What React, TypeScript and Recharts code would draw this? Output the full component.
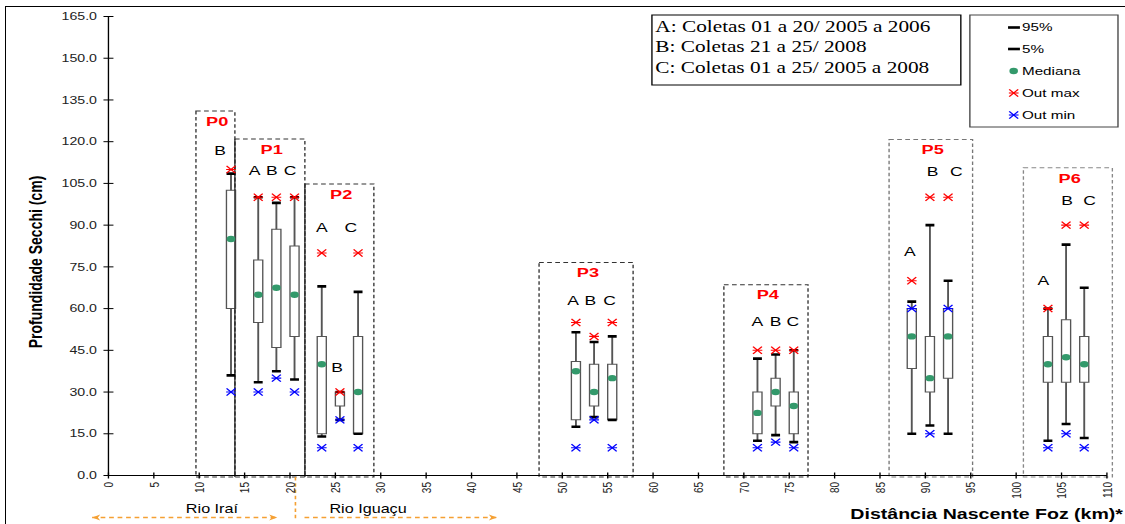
import React from "react"

import {
  ComposedChart,
  XAxis,
  YAxis,
  Scatter,
  ErrorBar,
  ReferenceArea,
  ReferenceLine,
  ReferenceDot,
  Legend,
  Label
} from "recharts"

// the original figure is stretched horizontally, so draw narrow and scale
const FULL_W = 1125
const W = 834
const H = 524
const SX = FULL_W / W

const SANS = "'Liberation Sans', Arial, Helvetica, sans-serif"
const SERIF = "'Liberation Serif', 'Times New Roman', serif"

const GREEN = "#33996b"
const ORANGE = "#f5a033"

const xTicks = [0, 5, 10, 15, 20, 25, 30, 35, 40, 45, 50, 55, 60, 65, 70, 75, 80, 85, 90, 95, 100, 105, 110]
const yTicks = [0, 15, 30, 45, 60, 75, 90, 105, 120, 135, 150, 165]

// box plots (distance from source in km)
const boxX = [13.5, 16.5, 18.5, 20.5, 23.5, 25.5, 27.5, 51.5, 53.5, 55.5, 71.5, 73.5, 75.5, 88.5, 90.5, 92.5, 103.5, 105.5, 107.5]
const p5 = [36, 33.5, 37.5, 34.5, 14, 20, 15, 17.5, 21, 20, 12.5, 14.5, 12, 15, 18, 15, 12.5, 18.5, 13.5]
const q1 = [60, 55, 46, 50, 15, 25, 15, 20, 25, 20, 15, 25, 15, 38.5, 30, 35, 33.5, 33.5, 33.5]
const med = [85, 65, 67.5, 65, 40, null, 30, 37.5, 30, 35, 22.5, 30, 25, 50, 35, 50, 40, 42.5, 40]
const q3 = [102.5, 77.5, 88.5, 82.5, 50, 30, 50, 41, 40, 40, 30, 35, 30, 60, 50, 60, 50, 56, 50]
const p95 = [108.5, 100, 98, 100, 68, 30, 66, 51.5, 48, 50, 42, 43.5, 45, 62.5, 90, 70, 60, 83, 67.5]
const outMax = [110, 100, 100, 100, 80, 30, 80, 55, 50, 55, 45, 45, 45, 70, 100, 100, 60, 90, 90]
const outMin = [30, 30, 35, 30, 10, 20, 10, 10, 20, 10, 10, 12, 10, 60, 15, 60, 10, 15, 10]

// A / B / C letters above the boxes
const letterText = ["B", "A", "B", "C", "A", "B", "C", "A", "B", "C", "A", "B", "C", "A", "B", "C", "A", "B", "C"]
const letterX = [12.3, 16.1, 18.0, 20.0, 23.5, 25.2, 26.7, 51.2, 53.1, 55.2, 71.5, 73.5, 75.4, 88.3, 90.8, 93.4, 103.0, 105.6, 108.1]
const letterY = [117, 109.5, 109.5, 109.5, 89, 39, 89, 63, 63, 63, 55.3, 55.3, 55.3, 80.4, 109.2, 109.2, 70, 98.8, 98.8]

// sampling points (dashed frames)
const groupName = ["P0", "P1", "P2", "P3", "P4", "P5", "P6"]
const groupX1 = [9.64, 13.93, 21.64, 47.44, 67.8, 86.0, 100.8]
const groupX2 = [13.93, 21.64, 29.24, 57.8, 77.07, 95.2, 110.6]
const groupTop = [131, 121, 104.8, 76.6, 68.6, 120.8, 110.6]
const groupStroke = ["#333", "#333", "#333", "#333", "#333", "#777", "#888"]

// rivers under the axis
const riverName = ["Rio Iraí", "Rio Iguaçu"]
const riverLabelX = [11.4, 28.6]
const riverFrom = [-1.8, 21.6]
const riverTo = [18.6, 42.8]
const riverHeadLeft = [true, false]
const riverBoundary = 20.6

const legendLines = [
  "A: Coletas 01 a 20/ 2005 a 2006",
  "B: Coletas 21 a 25/ 2008",
  "C: Coletas 01 a 25/ 2005 a 2008"
]
const legendItems = ["95%", "5%", "Mediana", "Out max", "Out min"]

const boxes = boxX.map((x, i) => ({
  x,
  p5: p5[i],
  q1: q1[i],
  med: med[i],
  q3: q3[i],
  p95: p95[i],
  omax: outMax[i],
  omin: outMin[i]
}))

const lowerWhisker = boxes.map(b => ({ x: b.x, y: b.q1, err: [b.q1 - b.p5, 0] }))
const upperWhisker = boxes.map(b => ({ x: b.x, y: b.q3, err: [0, b.p95 - b.q3] }))
const capsTop = boxes.map(b => ({ x: b.x, y: b.p95 }))
const capsBottom = boxes.map(b => ({ x: b.x, y: b.p5 }))
const medians = boxes.filter(b => b.med != null).map(b => ({ x: b.x, y: b.med }))
const outMaxPts = boxes.map(b => ({ x: b.x, y: b.omax }))
const outMinPts = boxes.map(b => ({ x: b.x, y: b.omin }))
const letters = letterX.map((x, i) => ({ x, y: letterY[i], t: letterText[i] }))
const groupLabels = groupName.map((t, i) => ({
  x: (groupX1[i] + groupX2[i]) / 2 + 0.2,
  y: groupTop[i] - 3.6,
  t
}))

// edges shared by two neighbouring frames look solid
const sharedEdges = groupX2
  .map((x, i) => (groupX1[i + 1] === x ? { x, top: Math.min(groupTop[i], groupTop[i + 1]) } : null))
  .filter(Boolean) as { x: number; top: number }[]

function Hidden() {
  return <g />
}

function Cap(p: any) {
  return <line x1={p.cx - 3.3} x2={p.cx + 3.3} y1={p.cy} y2={p.cy} stroke="#000" strokeWidth={2.6} />
}

function Dot(p: any) {
  return <circle cx={p.cx} cy={p.cy} r={3.2} fill={GREEN} />
}

function Star({ cx, cy, color }: any) {
  return (
    <g stroke={color} strokeWidth={1.1}>
      <line x1={cx - 3.6} x2={cx + 3.6} y1={cy} y2={cy} />
      <line x1={cx - 3.3} x2={cx + 3.3} y1={cy - 3.6} y2={cy + 3.6} />
      <line x1={cx - 3.3} x2={cx + 3.3} y1={cy + 3.6} y2={cy - 3.6} />
    </g>
  )
}

function LetterText(p: any) {
  return (
    <text x={p.cx} y={p.cy} dy="0.35em" textAnchor="middle" fontSize={13} fill="#000" fontFamily={SANS}>
      {p.payload.t}
    </text>
  )
}

function GroupText(p: any) {
  return (
    <text x={p.cx} y={p.cy} dy="0.35em" textAnchor="middle" fontSize={13.5} fontWeight="bold" fill="#ff0000" fontFamily={SANS}>
      {p.payload.t}
    </text>
  )
}

function XTick({ x, y, payload }: any) {
  return (
    <g>
      <line x1={x} x2={x} y1={y - 3} y2={y + 3} stroke="#000" />
      <text
        x={x}
        y={y + 6.5}
        dy="0.35em"
        textAnchor="end"
        transform={`rotate(-90 ${x} ${y + 6.5})`}
        fontSize={10}
        fill="#222"
        fontFamily={SANS}
      >
        {payload.value}
      </text>
    </g>
  )
}

function YTick({ x, y, payload }: any) {
  return (
    <g>
      <line x1={x - 3.7} x2={x + 3.7} y1={y} y2={y} stroke="#000" />
      <text x={x - 8.5} y={y} dy="0.35em" textAnchor="end" fontSize={10.5} fill="#222" fontFamily={SANS}>
        {Number(payload.value).toFixed(1)}
      </text>
    </g>
  )
}

function XTitle() {
  return (
    <text x={832.5} y={519} textAnchor="end" fontSize={14.5} fontWeight="bold" fill="#000" fontFamily={SANS}>
      Distância Nascente Foz (km)*
    </text>
  )
}

function YTitle() {
  return (
    <text
      x={26}
      y={262}
      dy="0.35em"
      textAnchor="middle"
      transform="rotate(-90 26 262)"
      fontSize={14}
      fontWeight="bold"
      fill="#000"
      fontFamily={SANS}
    >
      Profundidade Secchi (cm)
    </text>
  )
}

function RiverArrow(headLeft: boolean) {
  return (p: any) => {
    const { x1, x2, y1 } = p
    return (
      <g>
        <line x1={x1} x2={x2} y1={y1} y2={y1} stroke={ORANGE} strokeWidth={1.4} strokeDasharray="3.5 2.8" />
        {headLeft && (
          <path d={`M${x1},${y1} L${x1 + 6},${y1 - 3} L${x1 + 4.3},${y1} L${x1 + 6},${y1 + 3} Z`} fill={ORANGE} />
        )}
        <path d={`M${x2},${y1} L${x2 - 6},${y1 - 3} L${x2 - 4.3},${y1} L${x2 - 6},${y1 + 3} Z`} fill={ORANGE} />
      </g>
    )
  }
}

function RiverText(name: string) {
  return (p: any) => (
    <text x={p.cx} y={p.cy} textAnchor="middle" fontSize={12} fill="#000" fontFamily={SANS}>
      {name}
    </text>
  )
}

function LegendBoxes() {
  const rowY = [27.5, 49, 71, 93, 115]
  return (
    <svg width={W} height={140} style={{ position: "absolute", left: 0, top: 0, overflow: "visible" }}>
      <rect x={483.3} y={15} width={229} height={70} fill="#fff" stroke="#000" strokeWidth={1} />
      {legendLines.map((t, i) => (
        <text key={t} x={485.8} y={32 + i * 20.5} fontSize={15.8} fill="#000" fontFamily={SERIF}>
          {t}
        </text>
      ))}

      <rect x={719} y={15} width={109.8} height={112} fill="#fff" stroke="#444" strokeWidth={1} />
      {legendItems.map((t, i) => (
        <text key={t} x={757.6} y={rowY[i]} dy="0.35em" fontSize={11.3} fill="#000" fontFamily={SANS}>
          {t}
        </text>
      ))}
      <rect x={747.3} y={rowY[0] - 1.3} width={8.8} height={2.6} fill="#000" />
      <rect x={747.3} y={rowY[1] - 1.3} width={8.8} height={2.6} fill="#000" />
      <circle cx={751.5} cy={rowY[2]} r={3.2} fill={GREEN} />
      <Star cx={751.5} cy={rowY[3]} color="#ff0000" />
      <Star cx={751.5} cy={rowY[4]} color="#0000ff" />
    </svg>
  )
}

export default function App() {
  return (
    <div
      style={{
        position: "absolute",
        left: 0,
        top: 0,
        width: FULL_W,
        height: H,
        overflow: "hidden",
        background: "#fff",
        fontFamily: SANS
      }}
    >
      <div style={{ width: W, height: H, transform: `scaleX(${SX})`, transformOrigin: "0 0" }}>
        <ComposedChart width={W} height={H} margin={{ top: 16.5, right: 13.4, bottom: 46.5, left: 0 }}>

          <XAxis
            type="number"
            dataKey="x"
            domain={[0, 110]}
            ticks={xTicks}
            interval={0}
            height={2}
            tickSize={0}
            tickMargin={0}
            tickLine={false}
            axisLine={{ stroke: "#000" }}
            tick={<XTick />}
            allowDataOverflow
          >
            <Label content={<XTitle />} />
          </XAxis>

          <YAxis
            type="number"
            dataKey="y"
            domain={[0, 165]}
            ticks={yTicks}
            interval={0}
            width={80.4}
            tickSize={0}
            tickMargin={0}
            tickLine={false}
            axisLine={{ stroke: "#000" }}
            tick={<YTick />}
            allowDataOverflow
          >
            <Label content={<YTitle />} />
          </YAxis>

          {groupName.map((g, i) => (
            <ReferenceArea
              key={g}
              x1={groupX1[i]}
              x2={groupX2[i]}
              y1={-0.5}
              y2={groupTop[i]}
              fill="none"
              stroke={groupStroke[i]}
              strokeWidth={1}
              strokeDasharray="3.5 2.5"
              ifOverflow="visible"
            />
          ))}

          {sharedEdges.map(e => (
            <ReferenceLine
              key={e.x}
              segment={[{ x: e.x, y: -0.5 }, { x: e.x, y: e.top }]}
              stroke="#333"
              strokeWidth={1}
              ifOverflow="visible"
            />
          ))}

          <Scatter data={lowerWhisker} shape={<Hidden />} isAnimationActive={false}>
            <ErrorBar dataKey="err" direction="y" width={0} stroke="#555" strokeWidth={1.4} isAnimationActive={false} />
          </Scatter>
          <Scatter data={upperWhisker} shape={<Hidden />} isAnimationActive={false}>
            <ErrorBar dataKey="err" direction="y" width={0} stroke="#555" strokeWidth={1.4} isAnimationActive={false} />
          </Scatter>

          {boxes.map((b, i) => (
            <ReferenceArea
              key={i}
              x1={b.x - 0.5}
              x2={b.x + 0.5}
              y1={b.q1}
              y2={b.q3}
              fill="#fff"
              fillOpacity={1}
              stroke="#555"
              strokeWidth={1}
            />
          ))}

          <Scatter data={capsTop} shape={Cap} isAnimationActive={false} />
          <Scatter data={capsBottom} shape={Cap} isAnimationActive={false} />
          <Scatter data={medians} shape={Dot} isAnimationActive={false} />
          <Scatter data={outMaxPts} shape={(p: any) => <Star cx={p.cx} cy={p.cy} color="#ff0000" />} isAnimationActive={false} />
          <Scatter data={outMinPts} shape={(p: any) => <Star cx={p.cx} cy={p.cy} color="#0000ff" />} isAnimationActive={false} />
          <Scatter data={letters} shape={LetterText} isAnimationActive={false} />
          <Scatter data={groupLabels} shape={GroupText} isAnimationActive={false} />

          {riverName.map((r, i) => (
            <ReferenceLine
              key={r}
              segment={[{ x: riverFrom[i], y: -15.1 }, { x: riverTo[i], y: -15.1 }]}
              ifOverflow="visible"
              shape={RiverArrow(riverHeadLeft[i])}
            />
          ))}
          <ReferenceLine
            segment={[{ x: riverBoundary, y: -0.5 }, { x: riverBoundary, y: -15.8 }]}
            stroke={ORANGE}
            strokeWidth={1.2}
            strokeDasharray="3.5 2.8"
            ifOverflow="visible"
          />
          {riverName.map((r, i) => (
            <ReferenceDot key={r} x={riverLabelX[i]} y={-13.5} r={0} ifOverflow="visible" shape={RiverText(r)} />
          ))}

          <Legend
            content={<LegendBoxes />}
            layout="horizontal"
            verticalAlign="middle"
            align="center"
            wrapperStyle={{ left: 0, top: 0, width: W, height: 0 }}
          />

        </ComposedChart>
      </div>

      <div
        style={{
          position: "absolute",
          left: 5,
          top: 6,
          width: FULL_W,
          height: H,
          borderLeft: "1.5px solid #000",
          borderTop: "1.5px solid #000",
          pointerEvents: "none"
        }}
      />
    </div>
  )
}
